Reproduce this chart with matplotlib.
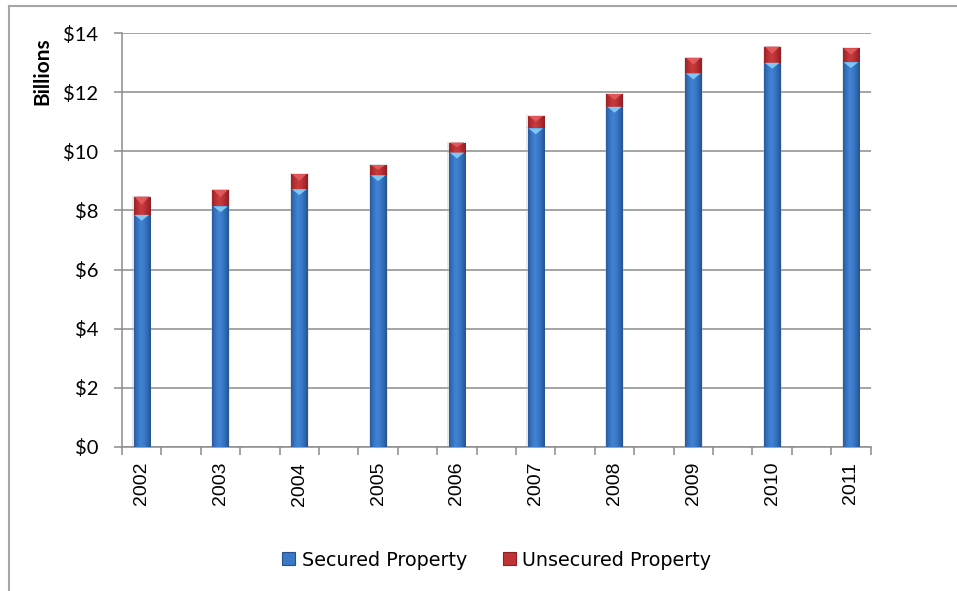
import numpy as np
import matplotlib
matplotlib.use("Agg")
from matplotlib import pyplot as plt
from matplotlib.colors import LinearSegmentedColormap
from matplotlib.patches import Polygon, Patch
from matplotlib.lines import Line2D

plt.rcParams['font.family'] = ['Lato', 'DejaVu Sans']

years = ['2002', '2003', '2004', '2005', '2006', '2007', '2008', '2009', '2010', '2011']
secured = [7.85, 8.14, 8.72, 9.19, 9.96, 10.78, 11.51, 12.64, 13.00, 13.02]
unsecured = [0.62, 0.56, 0.51, 0.35, 0.34, 0.42, 0.43, 0.53, 0.55, 0.47]
yticks = [0, 2, 4, 6, 8, 10, 12, 14]

# every year sits on its own slot with an empty slot in between
pos = np.arange(len(years)) * 2
bar_w = 0.41

blue_cmap = LinearSegmentedColormap.from_list(
    'sec', ['#2a5a9c', '#3674c2', '#4084d4', '#3b7cca', '#3069b2', '#26538f'])
red_cmap = LinearSegmentedColormap.from_list(
    'unsec', ['#9a2326', '#b82e32', '#c83c3e', '#c13538', '#ab292d', '#8e1f22'])

fig = plt.figure(figsize=(9.57, 5.91), dpi=100)
ax = fig.add_axes([0.1275, 0.2442, 0.7823, 0.6995])

bars_s = ax.bar(pos, secured, width=bar_w, color='#3a79c8', zorder=3)
bars_u = ax.bar(pos, unsecured, width=bar_w, bottom=secured, color='#bf3336', zorder=3)


def shade(bars, cmap, top_color, depth):
    grad = np.linspace(0, 1, 64).reshape(1, -1)
    for b in bars:
        x0, y0, w, h = b.get_x(), b.get_y(), b.get_width(), b.get_height()
        # soft shadow edge around the bar
        ax.add_patch(plt.Rectangle((x0 - 0.035, y0), w + 0.07, h + 0.03, color='#b0b0b0',
                                   alpha=0.3, lw=0, zorder=2.5))
        im = ax.imshow(grad, extent=[x0, x0 + w, y0, y0 + h], aspect='auto',
                       cmap=cmap, interpolation='bicubic', zorder=3.5)
        im.set_clip_path(b)
        d = min(depth, h * 0.45)
        ax.add_patch(Polygon([[x0 + 0.02, y0 + h], [x0 + w - 0.02, y0 + h],
                              [x0 + w / 2, y0 + h - d]],
                             closed=True, color=top_color, lw=0, zorder=3.6))


shade(bars_s, blue_cmap, '#7fc6f4', 0.2)
shade(bars_u, red_cmap, '#e0585a', 0.3)

ax.set_xlim(-0.5, pos[-1] + 0.5)
ax.set_ylim(0, 14)

# y axis
ax.set_yticks(yticks)
ax.set_yticklabels(['$%d' % v for v in yticks], fontsize=14.5)
ax.yaxis.grid(True, color='#8c8c8c', lw=1.1, zorder=1)
ax.set_axisbelow(True)

# x axis: year labels at bar centres, tick marks between slots
ax.set_xticks(pos)
ax.set_xticklabels(years, rotation=90, fontsize=14, family='Liberation Sans')
ax.set_xticks(np.arange(-0.5, pos[-1] + 1, 1), minor=True)
ax.tick_params(axis='x', which='major', length=0, pad=11)
ax.tick_params(axis='x', which='minor', length=6, color='#8c8c8c', width=1.1)
ax.tick_params(axis='y', length=6, color='#8c8c8c', width=1.1, pad=11)

for s in ['top', 'right']:
    ax.spines[s].set_visible(False)
for s in ['left', 'bottom']:
    ax.spines[s].set_color('#8c8c8c')
    ax.spines[s].set_linewidth(1.1)

fig.text(42 / 957, 1 - 71 / 591, 'Billions', rotation=90, ha='center', va='center',
         fontsize=15, fontweight='bold')

handles = [Patch(facecolor='#3a79c8', edgecolor='#25528f', lw=0.8),
           Patch(facecolor='#bf3336', edgecolor='#8e1f22', lw=0.8)]
fig.legend(handles, ['Secured Property', 'Unsecured Property'], ncol=2,
           loc='center', bbox_to_anchor=(497 / 957, 1 - 560 / 591), frameon=False,
           prop={'family': 'DejaVu Sans', 'size': 13.8},
           handlelength=0.65, handleheight=0.65, handletextpad=0.35,
           columnspacing=1.9)

# chart area border
fig.add_artist(Line2D([9 / 957, 9 / 957], [0, 1 - 6 / 591], color='#a6a6a6',
                      lw=1.5, transform=fig.transFigure))
fig.add_artist(Line2D([9 / 957, 1], [1 - 6 / 591, 1 - 6 / 591], color='#a6a6a6',
                      lw=1.5, transform=fig.transFigure))

fig.savefig('out.png', dpi=100)
